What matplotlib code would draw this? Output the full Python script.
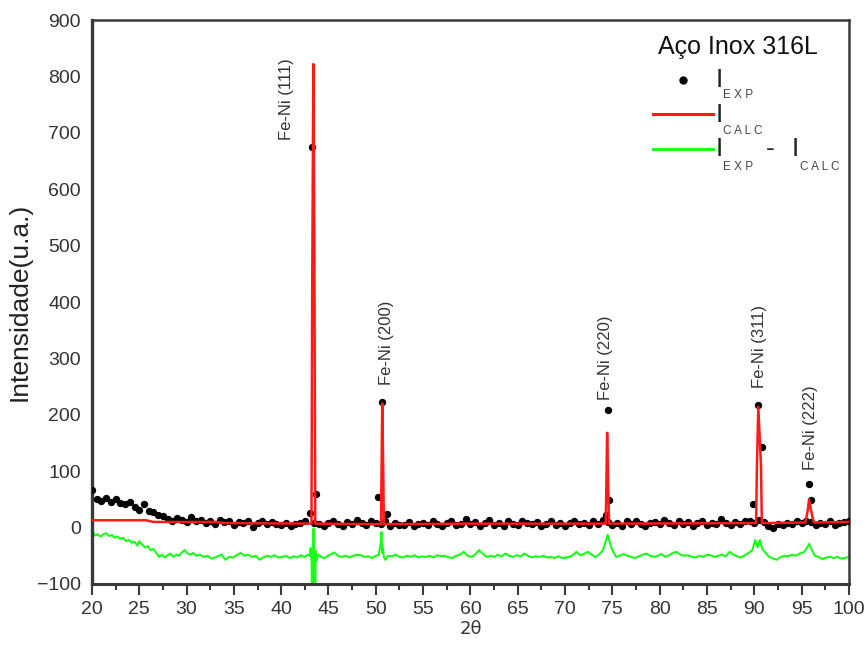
import numpy as np
import matplotlib
matplotlib.use("Agg")
import matplotlib.pyplot as plt
from matplotlib.ticker import MultipleLocator

plt.rcParams['font.family'] = ['Liberation Sans', 'DejaVu Sans']

# experimental intensities, 0.5 deg steps from 20 to 100
exp_step_2theta = np.arange(20.0, 100.01, 0.5)
exp_step_int = [
    66, 50, 47, 52, 46, 50, 44, 42, 45, 36,
    32, 42, 30, 27, 23, 20, 16, 12, 17, 13,
    10, 18, 12, 14, 9, 12, 7, 14, 10, 12,
    5, 10, 8, 12, 1, 8, 11, 6, 10, 7,
    4, 9, 2, 7, 9, 11, 26, 8, 6, 2,
    8, 12, 6, 3, 10, 7, 14, 9, 5, 11,
    8, 6, 12, 2, 9, 5, 4, 10, 3, 7,
    9, 5, 11, 6, 2, 8, 12, 4, 7, 15,
    6, 10, 3, 8, 13, 5, 9, 2, 11, 7,
    4, 12, 8, 6, 10, 3, 7, 11, 5, 9,
    2, 8, 12, 6, 9, 4, 11, 7, 14, 10,
    5, 9, 3, 11, 7, 12, 6, 2, 8, 10,
    6, 13, 9, 4, 11, 7, 10, 3, 8, 12,
    5, 9, 6, 15, 8, 4, 10, 7, 11, 12,
    9, 14, 10, 3, 0, 7, 5, 9, 6, 11,
    8, 12, 10, 5, 9, 6, 11, 4, 8, 10,
    12,
]
# experimental points on the reflections
exp_peak_2theta = [43.22, 43.68, 50.25, 50.66, 51.15, 74.3, 74.5, 74.62,
                   89.9, 90.4, 90.8, 95.75, 96.0]
exp_peak_int = [675, 60, 54, 222, 24, 22, 208, 49, 42, 217, 143, 77, 49]

# calculated profile
calc_2theta = [20, 25.7, 26.5, 33.0, 34.0,
               43.2, 43.28, 43.4, 43.52, 43.6,
               50.55, 50.62, 50.68, 50.78, 50.85, 60.0,
               74.3, 74.38, 74.45, 74.55, 74.65,
               90.2, 90.28, 90.43, 90.72, 90.8,
               95.4, 95.65, 95.8, 96.0, 96.3, 100]
calc_int = [13, 13, 10, 10, 8,
            7, 430, 822, 430, 7,
            6, 120, 220, 110, 6, 7,
            7, 85, 168, 85, 7,
            8, 107, 214, 107, 8,
            9, 30, 50, 30, 9, 10]

# difference curve (shifted down)
diff_2theta = [
    20.0, 20.3, 20.6, 20.9, 21.2, 21.5, 21.8, 22.1, 22.4, 22.7,
    23.0, 23.3, 23.6, 23.9, 24.2, 24.5, 24.8, 25.0, 25.3, 25.6,
    25.9, 26.2, 26.5, 26.8, 27.1, 27.4, 27.7, 28.0, 28.3, 28.6,
    28.9, 29.2, 29.5, 29.8, 30.1, 30.4, 30.7, 31.0, 31.4, 31.8,
    32.2, 32.6, 33.0, 33.4, 33.7, 34.1, 34.5, 34.9, 35.3, 35.7,
    36.1, 36.5, 36.9, 37.3, 37.7, 38.1, 38.5, 38.9, 39.3, 39.7,
    40.1, 40.5, 40.9, 41.3, 41.7, 42.1, 42.5, 42.8, 43.0, 43.12,
    43.22, 43.3, 43.42, 43.55, 43.65, 43.75, 43.9, 44.2, 44.6, 45.0,
    45.3, 45.6, 46.0, 46.4, 46.8, 47.2, 47.6, 48.0, 48.4, 48.8,
    49.2, 49.6, 50.0, 50.3, 50.5, 50.6, 50.68, 50.76, 50.85, 51.0,
    51.3, 51.7, 52.1, 52.5, 52.9, 53.3, 53.7, 54.1, 54.5, 54.9,
    55.3, 55.7, 56.1, 56.5, 56.9, 57.3, 57.7, 58.1, 58.5, 58.9,
    59.3, 59.7, 60.1, 60.5, 60.9, 61.3, 61.7, 62.1, 62.5, 62.9,
    63.3, 63.7, 64.1, 64.5, 64.9, 65.3, 65.7, 66.1, 66.5, 66.9,
    67.3, 67.7, 68.1, 68.5, 68.9, 69.3, 69.7, 70.1, 70.5, 70.9,
    71.2, 71.6, 72.0, 72.4, 72.8, 73.2, 73.6, 74.0, 74.3, 74.5,
    74.7, 75.0, 75.4, 75.8, 76.2, 76.6, 77.0, 77.4, 77.8, 78.2,
    78.6, 79.0, 79.4, 79.8, 80.2, 80.6, 81.0, 81.4, 81.8, 82.2,
    82.6, 83.0, 83.4, 83.8, 84.2, 84.6, 85.0, 85.4, 85.8, 86.2,
    86.6, 87.0, 87.4, 87.8, 88.2, 88.6, 89.0, 89.4, 89.8, 90.1,
    90.35, 90.6, 90.85, 91.2, 91.6, 92.0, 92.4, 92.8, 93.2, 93.6,
    94.0, 94.4, 94.8, 95.2, 95.5, 95.8, 96.1, 96.4, 96.8, 97.2,
    97.6, 98.0, 98.4, 98.8, 99.2, 99.6, 100.0,
]
diff_int = [
    -3, -14, -12, -16, -12, -10, -15, -13, -18, -16,
    -20, -18, -24, -22, -27, -25, -32, -24, -30, -35,
    -33, -40, -38, -45, -52, -48, -53, -49, -46, -52,
    -48, -50, -44, -40, -46, -48, -45, -50, -48, -52,
    -50, -55, -53, -50, -48, -57, -52, -53, -49, -45,
    -50, -48, -52, -50, -57, -53, -50, -52, -49, -53,
    -52, -50, -54, -51, -53, -49, -52, -48, -50, -36,
    -62, -260, -2, -260, -42, -58, -48, -52, -54, -49,
    -47, -44, -50, -52, -50, -53, -50, -48, -49, -52,
    -51, -54, -50, -49, -30, -8, -45, -36, -52, -57,
    -50, -51, -48, -52, -53, -50, -52, -49, -53, -51,
    -52, -50, -53, -49, -51, -50, -53, -54, -50, -48,
    -43, -50, -52, -48, -40, -46, -52, -50, -52, -48,
    -51, -46, -50, -52, -49, -51, -46, -50, -53, -51,
    -52, -50, -53, -52, -54, -51, -54, -53, -52, -48,
    -43, -49, -47, -43, -48, -52, -48, -40, -25, -13,
    -25, -40, -52, -50, -47, -50, -52, -54, -51, -48,
    -46, -50, -52, -50, -47, -52, -49, -45, -43, -48,
    -50, -49, -52, -53, -50, -52, -48, -49, -52, -50,
    -48, -51, -43, -48, -51, -53, -49, -45, -40, -22,
    -35, -22, -38, -45, -52, -55, -57, -52, -50, -51,
    -48, -50, -46, -44, -38, -29, -40, -50, -52, -56,
    -53, -52, -54, -52, -55, -54, -52,
]

# reflection labels: (text, 2theta, intensity at label base)
peak_labels = ["Fe-Ni (111)", "Fe-Ni (200)", "Fe-Ni (220)", "Fe-Ni (311)", "Fe-Ni (222)"]
label_2theta = [40.6, 51.1, 74.3, 90.6, 95.9]
label_int = [687, 253, 226, 247, 102]

red = '#ff1a1a'
green = '#1aff1a'
axis_gray = '#3a3a3a'
text_gray = '#333333'

fig = plt.figure(figsize=(8.66, 6.46), dpi=100)
ax = fig.add_axes([0.1062, 0.096, 0.874, 0.873])

ax.plot(diff_2theta, diff_int, color=green, lw=1.5, zorder=2)
ax.plot(np.concatenate([exp_step_2theta, exp_peak_2theta]),
        np.concatenate([exp_step_int, exp_peak_int]),
        'o', color='black', ms=5.3, mew=0, zorder=3)
ax.plot(calc_2theta, calc_int, color=red, lw=1.8, zorder=4)

for txt, x, y in zip(peak_labels, label_2theta, label_int):
    ax.text(x, y, txt, rotation=90, ha='center', va='bottom',
            fontsize=12, color=text_gray)

ax.set_xlim(20, 100)
ax.set_ylim(-100, 900)
ax.xaxis.set_major_locator(MultipleLocator(5))
ax.xaxis.set_minor_locator(MultipleLocator(2.5))
ax.yaxis.set_major_locator(MultipleLocator(100))
ax.tick_params(axis='x', which='major', direction='out', length=8, width=1.5,
               color=axis_gray, labelsize=14, labelcolor=text_gray, pad=4)
ax.tick_params(axis='x', which='minor', direction='out', length=4, width=1.5,
               color=axis_gray)
ax.tick_params(axis='y', which='major', direction='out', length=0,
               labelsize=14, labelcolor=text_gray, pad=8)
for s in ax.spines.values():
    s.set_color(axis_gray)
    s.set_linewidth(1.8)
ax.spines['left'].set_linewidth(2.4)
ax.spines['bottom'].set_linewidth(2.2)

ax.set_xlabel('2θ', fontsize=13, color=text_gray, labelpad=2,
              family=['DejaVu Sans'])
ax.set_ylabel('Intensidade(u.a.)', fontsize=19, color='#222222', labelpad=4)

# legend, drawn by hand so the subscripts can sit low and small
tr = ax.transAxes
ax.text(0.853, 0.952, 'Aço Inox 316L', transform=tr, ha='center', va='center',
        fontsize=18, color='#111111')
ax.plot([0.781], [0.894], 'o', color='black', ms=6, mew=0, transform=tr)
ax.plot([0.741, 0.820], [0.833, 0.833], color=red, lw=2.2, transform=tr)
ax.plot([0.741, 0.820], [0.771, 0.771], color=green, lw=2.2, transform=tr)
big = dict(transform=tr, ha='left', va='center', fontsize=19, color='#222222')
small = dict(transform=tr, ha='left', va='center', fontsize=8.5, color='#444444')
ax.text(0.824, 0.894, 'I', **big)
ax.text(0.834, 0.867, 'E X P', **small)
ax.text(0.824, 0.832, 'I', **big)
ax.text(0.834, 0.803, 'C A L C', **small)
ax.text(0.824, 0.771, 'I', **big)
ax.text(0.834, 0.740, 'E X P', **small)
ax.text(0.891, 0.771, '-', **big)
ax.text(0.925, 0.771, 'I', **big)
ax.text(0.935, 0.740, 'C A L C', **small)

fig.savefig('out.png', dpi=100)
